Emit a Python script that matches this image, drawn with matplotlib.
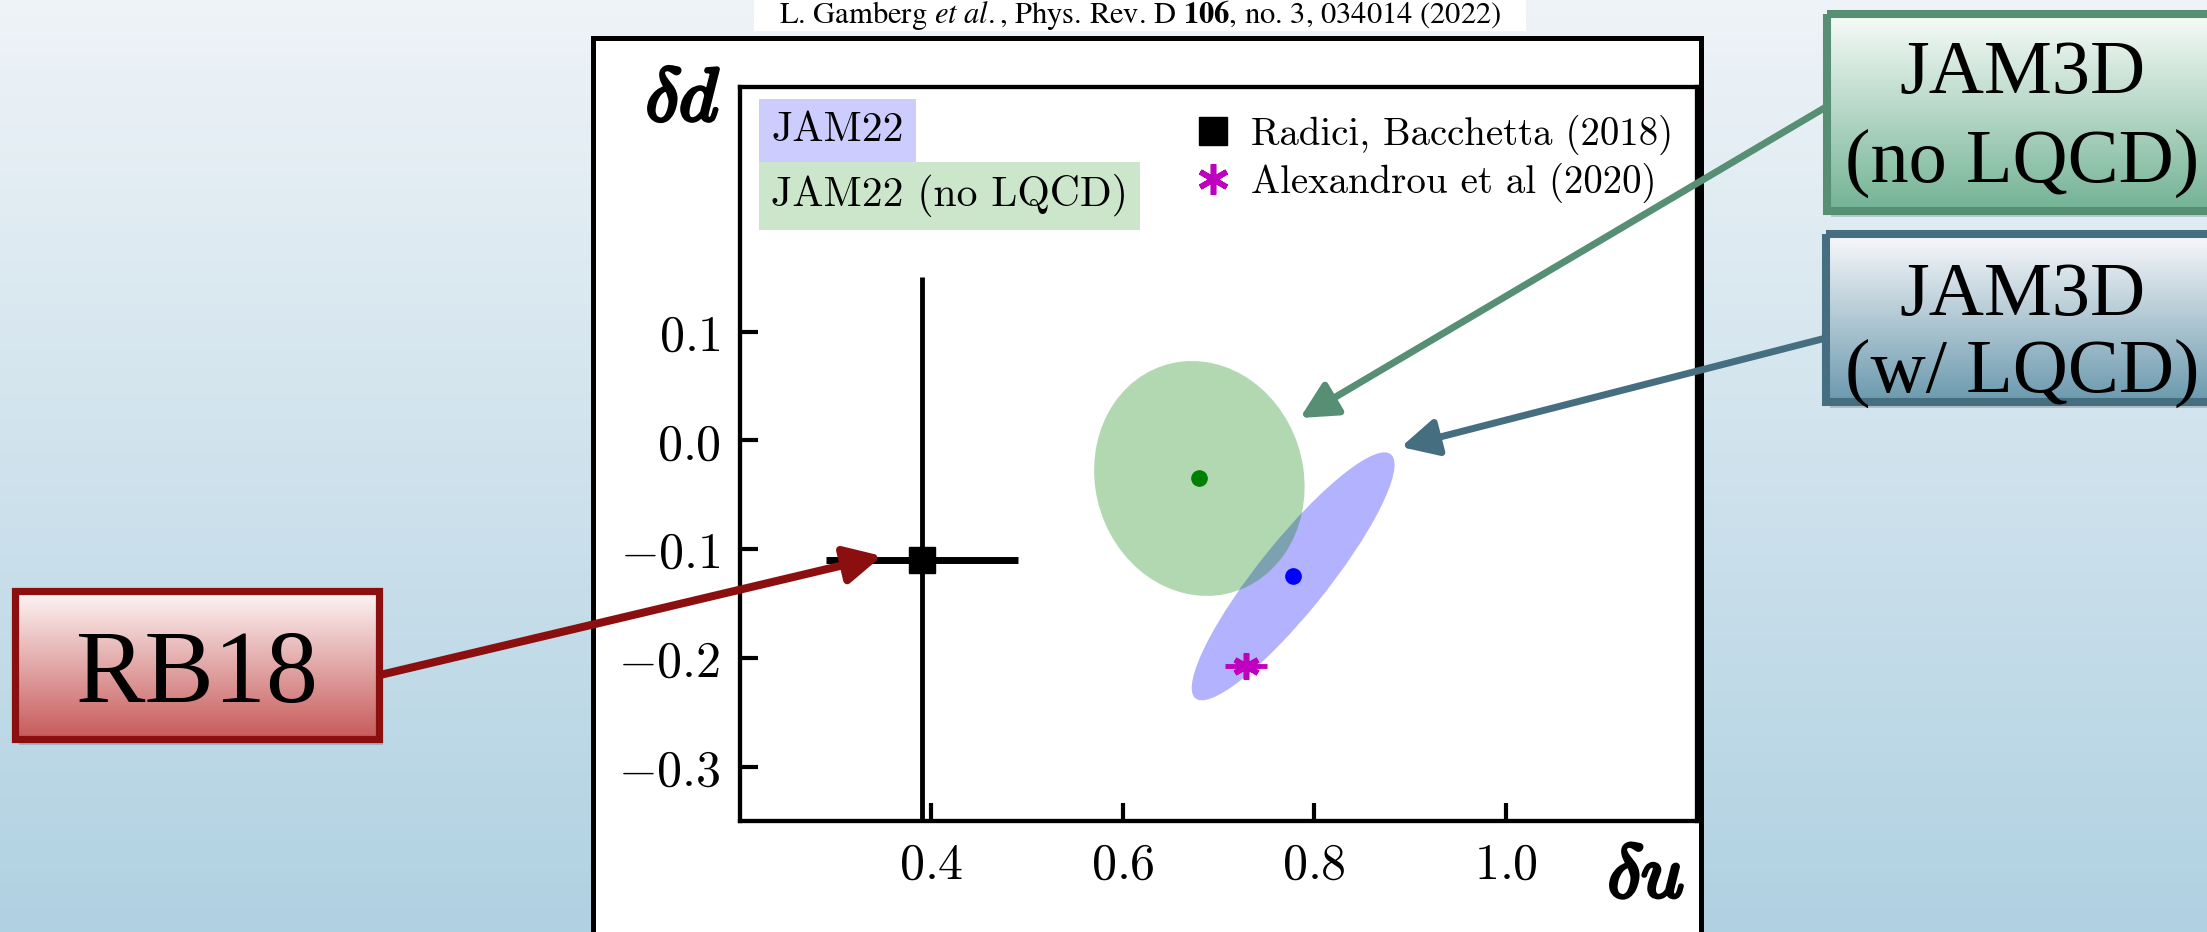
import numpy as np
import matplotlib
matplotlib.use("Agg")
import matplotlib.pyplot as plt
from matplotlib.patches import Ellipse, Rectangle
from matplotlib.lines import Line2D
import matplotlib.patheffects as pe

plt.rcParams["mathtext.fontset"] = "cm"

# ---- tensor charges: global fits (delta u, delta d) with 1-sigma ellipses ----
fit_names = ["JAM22", "JAM22 (no LQCD)"]
fit_du = [0.778, 0.680]
fit_dd = [-0.125, -0.035]
fit_sig_du = [0.106, 0.110]
fit_sig_dd = [0.114, 0.108]
fit_rho = [0.90, -0.07]
fit_colors = ["b", "g"]
fit_label_bg = [(0.80, 0.80, 1.00), (0.80, 0.90, 0.80)]

# ---- other extractions ----
rb_label = "Radici, Bacchetta (2018)"
rb_du, rb_dd = 0.39, -0.11
rb_err_du, rb_err_dd = 0.10, 0.26

lat_label = "Alexandrou et al (2020)"
lat_du, lat_dd = 0.729, -0.207
lat_err_du = 0.022

# ---- axes ----
xlim = (0.2, 1.2)
ylim = (-0.35, 0.325)
xticks = [0.4, 0.6, 0.8, 1.0]
xtick_labels = ["0.4", "0.6", "0.8", "1.0"]
yticks = [0.1, 0.0, -0.1, -0.2, -0.3]
ytick_labels = ["0.1", "0.0", "-0.1", "-0.2", "-0.3"]

citation = r"L. Gamberg $\mathit{et\ al.}$, Phys. Rev. D $\mathbf{106}$, no. 3, 034014 (2022)"
callout_green = ["JAM3D", "(no LQCD)"]
callout_blue = ["JAM3D", "(w/ LQCD)"]
callout_red = "RB18"

W, H = 2207, 932
fig = plt.figure(figsize=(W / 100, H / 100), dpi=100)

# ---------------- slide background + white figure panel ----------------
back = fig.add_axes([0, 0, 1, 1], zorder=0)
back.set_axis_off()
g = np.linspace(0, 1, 256)[:, None, None]
top_c = np.array([0.935, 0.955, 0.970])
bot_c = np.array([0.690, 0.820, 0.885])
bg = top_c[None, None, :] * (1 - g) + bot_c[None, None, :] * g
back.imshow(bg, extent=(0, W, H, 0), aspect="auto", interpolation="bilinear", zorder=0)
back.add_patch(Rectangle((593, 38), 1108, 960, fc="white", ec="black", lw=3.6, zorder=1))
back.add_patch(Rectangle((754, -5), 772, 36, fc="white", ec="none", zorder=1))
back.text(1140, 15, citation, family="STIXGeneral", math_fontfamily="stix",
          fontsize=22, ha="center", va="center", zorder=2)
back.set_xlim(0, W)
back.set_ylim(H, 0)

# ---------------- main plot ----------------
ax = fig.add_axes([740 / W, (H - 821) / H, 957 / W, 734 / H], zorder=2)
ax.set_facecolor("white")

for du, dd, sx, sy, rho, col in zip(fit_du, fit_dd, fit_sig_du, fit_sig_dd, fit_rho, fit_colors):
    cov = np.array([[sx * sx, rho * sx * sy], [rho * sx * sy, sy * sy]])
    vals, vecs = np.linalg.eigh(cov)
    ang = np.degrees(np.arctan2(vecs[1, 1], vecs[0, 1]))
    ax.add_patch(Ellipse((du, dd), 2 * np.sqrt(vals[1]), 2 * np.sqrt(vals[0]), angle=ang,
                         fc=col, ec="none", alpha=0.3, zorder=2))
    ax.plot([du], [dd], "o", color=col, ms=11, zorder=4)

ax.errorbar([rb_du], [rb_dd], xerr=[rb_err_du], fmt="none", ecolor="k", elinewidth=5, zorder=6)
ax.errorbar([rb_du], [rb_dd], yerr=[rb_err_dd], fmt="none", ecolor="k", elinewidth=3.5, zorder=6)
ax.plot([rb_du], [rb_dd], "s", color="k", ms=19, zorder=7)

ax.errorbar([lat_du], [lat_dd], xerr=[lat_err_du], fmt="none", ecolor="m", elinewidth=3.5, zorder=6)
ax.plot([lat_du], [lat_dd], ls="none", marker=(6, 2, 0), color="m", ms=19, mew=4, zorder=7)

ax.set_xlim(*xlim)
ax.set_ylim(*ylim)
ax.set_xticks(xticks)
ax.set_xticklabels([f"${s}$" for s in xtick_labels])
ax.set_yticks(yticks)
ax.set_yticklabels([f"${s}$" for s in ytick_labels])
ax.tick_params(direction="in", length=13, width=3, labelsize=36, pad=14,
               top=False, right=False)
for sp in ax.spines.values():
    sp.set_linewidth(3.1)

stroke = [pe.withStroke(linewidth=2.6, foreground="k")]
ax.text(-0.0596, 0.982, r"$\delta d$", transform=ax.transAxes, fontsize=54,
        ha="center", va="center", path_effects=stroke)
ax.text(0.9467, -0.076, r"$\delta u$", transform=ax.transAxes, fontsize=54,
        ha="center", va="center", path_effects=stroke)

for name, bgc, yy in zip(fit_names, fit_label_bg, [0.941, 0.8515]):
    ax.text(0.0324, yy, name, transform=ax.transAxes, family="cmr10", fontsize=30,
            ha="left", va="center",
            bbox=dict(boxstyle="square,pad=0.3", fc=bgc, ec="none"))

handles = [Line2D([], [], ls="none", marker="s", color="k", ms=20),
           Line2D([], [], ls="none", marker=(6, 2, 0), color="m", ms=22, mew=4)]
ax.legend(handles, [rb_label, lat_label], loc="upper left", bbox_to_anchor=(0.4775, 0.962),
          frameon=False, prop={"family": "cmr10", "size": 28}, handlelength=0.8,
          handletextpad=0.6, labelspacing=0.2, borderpad=0, borderaxespad=0)

# ---------------- callout boxes and arrows ----------------
over = fig.add_axes([0, 0, 1, 1], zorder=5)
over.set_axis_off()
over.patch.set_visible(False)


def gradient_box(x0, y0, x1, y1, c_top, c_bot, edge, lw):
    over.add_patch(Rectangle((x0 + 4, y0 + 6), x1 - x0, y1 - y0, fc=(0, 0, 0, 0.16),
                             ec="none", zorder=1))
    t = np.linspace(0, 1, 256)[:, None, None]
    img = np.array(c_top)[None, None, :] * (1 - t) + np.array(c_bot)[None, None, :] * t
    im = over.imshow(img, extent=(x0, x1, y1, y0), aspect="auto",
                     interpolation="bilinear", zorder=2)
    frame = Rectangle((x0, y0), x1 - x0, y1 - y0, fc="none", ec=edge, lw=lw, zorder=3)
    over.add_patch(frame)
    im.set_clip_path(frame)


green_c = (0.34, 0.56, 0.46)
blue_c = (0.27, 0.43, 0.50)
red_c = (0.55, 0.06, 0.06)

arrow = "-|>,head_length=0.55,head_width=0.28"
over.annotate("", xy=(1300, 418), xytext=(1826, 107),
              arrowprops=dict(arrowstyle=arrow, color=green_c, lw=5, mutation_scale=40,
                              shrinkA=0, shrinkB=0), zorder=4)
over.annotate("", xy=(1401, 447), xytext=(1826, 338),
              arrowprops=dict(arrowstyle=arrow, color=blue_c, lw=5, mutation_scale=40,
                              shrinkA=0, shrinkB=0), zorder=4)
over.annotate("", xy=(882, 556), xytext=(380, 675),
              arrowprops=dict(arrowstyle=arrow, color=red_c, lw=5.8, mutation_scale=40,
                              shrinkA=0, shrinkB=0), zorder=4)

gradient_box(1827, 14, 2225, 211, (0.97, 0.985, 0.975), (0.45, 0.70, 0.58), green_c, 5.8)
gradient_box(1826, 234, 2225, 402, (0.975, 0.975, 0.985), (0.42, 0.60, 0.68), blue_c, 5.8)
gradient_box(15, 591, 379, 739, (0.995, 0.965, 0.965), (0.78, 0.35, 0.35), red_c, 5.2)

serif = "Liberation Serif"
over.text(2022, 93, callout_green[0], family=serif, fontsize=55, ha="center", va="baseline", zorder=5)
over.text(2022, 182, callout_green[1], family=serif, fontsize=55, ha="center", va="baseline", zorder=5)
over.text(2022, 315, callout_blue[0], family=serif, fontsize=55, ha="center", va="baseline", zorder=5)
over.text(2022, 392, callout_blue[1], family=serif, fontsize=55, ha="center", va="baseline", zorder=5)
over.text(197, 702, callout_red, family=serif, fontsize=75, ha="center", va="baseline", zorder=5)

over.set_xlim(0, W)
over.set_ylim(H, 0)

fig.savefig("out.png", dpi=100)
